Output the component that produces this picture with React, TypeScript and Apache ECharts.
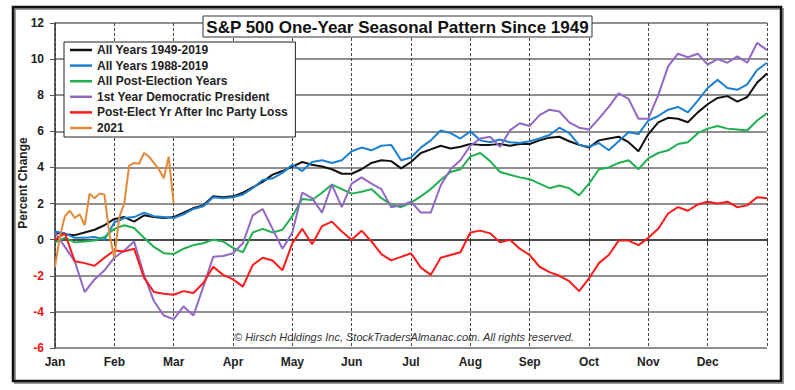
import React, { useEffect, useRef } from "react";
import * as echarts from "echarts";

// Month names (x axis: 12 units per month)
const months = ["Jan", "Feb", "Mar", "Apr", "May", "Jun", "Jul", "Aug", "Sep", "Oct", "Nov", "Dec"];

// Main series sampled every 1/6 month (73 points, Jan 1 .. Dec 31)
const allYears1949 = [
  0.4, 0.3, 0.25, 0.4, 0.55, 0.8, 1.15, 1.25, 1.0, 1.35,
  1.25, 1.2, 1.25, 1.5, 1.75, 1.9, 2.4, 2.35, 2.4, 2.6,
  2.9, 3.2, 3.6, 3.8, 4.05, 4.3, 4.15, 4.05, 3.9, 3.65,
  3.65, 3.9, 4.25, 4.4, 4.35, 3.95, 4.3, 4.8, 5.0, 5.2,
  5.05, 5.15, 5.3, 5.25, 5.25, 5.3, 5.2, 5.3, 5.3, 5.5,
  5.65, 5.7, 5.45, 5.25, 5.1, 5.5, 5.6, 5.7, 5.4, 4.9,
  5.85, 6.5, 6.75, 6.7, 6.5, 7.05, 7.5, 7.85, 7.95, 7.65,
  7.9, 8.7, 9.2,
];
const allYears1988 = [
  0.45, 0.35, 0.1, 0.1, 0.15, 0.0, 0.95, 1.2, 1.25, 1.5,
  1.3, 1.25, 1.2, 1.4, 1.7, 1.85, 2.35, 2.3, 2.35, 2.5,
  2.85, 3.3, 3.4, 3.7, 4.15, 3.8, 4.3, 4.4, 4.25, 4.4,
  4.9, 5.1, 4.95, 5.2, 5.25, 4.4, 4.55, 5.1, 5.5, 6.05,
  5.9, 5.6, 6.0, 5.5, 5.4, 5.55, 5.4, 5.35, 5.45, 5.6,
  5.8, 6.2, 5.9, 5.25, 5.15, 5.35, 4.95, 5.45, 5.95, 5.85,
  6.6, 6.85, 7.2, 7.35, 7.05, 7.7, 8.4, 8.85, 8.4, 8.3,
  8.6, 9.4, 9.8,
];
const postElection = [
  -0.15, 0.1, -0.15, -0.1, -0.05, 0.15, 0.6, 0.8, 0.65, 0.1,
  -0.4, -0.75, -0.8, -0.5, -0.3, -0.2, 0.0, -0.1, -0.45, -0.7,
  0.4, 0.6, 0.4, 0.55, 1.3, 2.25, 2.2, 2.6, 3.05, 2.8,
  2.55, 2.65, 2.8, 2.3, 1.95, 1.8, 2.05, 2.4, 2.8, 3.3,
  3.75, 3.9, 4.6, 4.8, 4.35, 3.75, 3.6, 3.45, 3.35, 3.1,
  2.85, 3.0, 2.85, 2.45, 3.1, 3.9, 4.0, 4.25, 4.4, 3.9,
  4.5, 4.8, 4.95, 5.3, 5.4, 5.9, 6.15, 6.3, 6.15, 6.1,
  6.05, 6.6, 7.0,
];
const firstYearDem = [
  0.4, -0.4, -1.2, -2.9, -2.2, -1.7, -1.0, -0.6, -0.1, -1.95,
  -3.4, -4.2, -4.4, -3.7, -4.2, -2.6, -0.95, -0.9, -0.75, -0.2,
  1.35, 1.7, 0.6, -0.5, 0.4, 2.6, 2.3, 1.5, 3.05, 1.8,
  3.1, 3.45, 3.1, 2.8, 1.8, 1.9, 2.1, 1.5, 1.5, 3.0,
  3.9, 4.4, 5.2, 5.6, 5.7, 5.15, 6.05, 6.45, 6.3, 6.9,
  7.2, 7.1, 6.5, 6.2, 6.1, 6.7, 7.35, 8.1, 7.8, 6.7,
  6.7, 8.0, 9.6, 10.3, 10.1, 10.3, 9.7, 10.0, 9.8, 10.15,
  9.8, 10.9, 10.5,
];
const incPartyLoss = [
  0.0, 0.35, -1.2, -1.3, -1.45, -1.0, -0.6, -0.65, -0.5, -2.1,
  -2.9, -3.0, -3.05, -2.85, -2.95, -2.4, -1.5, -1.95, -2.2, -2.6,
  -1.4, -1.0, -1.15, -1.7, -0.2, 0.6, -0.25, 0.75, 1.0, 0.45,
  0.0, 0.5, -0.1, -0.8, -1.15, -0.95, -0.75, -1.55, -1.95, -1.0,
  -0.85, -0.7, 0.4, 0.5, 0.35, -0.15, 0.0, -0.5, -0.85, -1.5,
  -1.8, -2.0, -2.3, -2.85, -2.15, -1.3, -0.85, -0.05, -0.05, -0.3,
  0.1, 0.6, 1.45, 1.8, 1.6, 1.95, 2.1, 2.0, 2.1, 1.8,
  1.9, 2.35, 2.3,
];
// 2021 sampled every 1/12 month (Jan 1 .. end of Feb)
const y2021 = [
  -1.5, 0.2, 1.3, 1.6, 1.2, 1.4, 0.8, 2.55, 2.3, 2.55,
  2.5, 0.3, -1.0, 1.25, 2.0, 4.1, 4.25, 4.2, 4.8, 4.6,
  4.25, 3.9, 3.4, 4.6, 2.0,
];

const yTicks = { min: -6, max: 12, step: 2 };

const seriesDefs = [
  { name: "All Years 1949-2019", data: allYears1949, step: 2, color: "#111111" },
  { name: "All Years 1988-2019", data: allYears1988, step: 2, color: "#1c80d2" },
  { name: "All Post-Election Years", data: postElection, step: 2, color: "#1fb04f" },
  { name: "1st Year Democratic President", data: firstYearDem, step: 2, color: "#9168c4" },
  { name: "Post-Elect Yr After Inc Party Loss", data: incPartyLoss, step: 2, color: "#ff1a1a" },
  { name: "2021", data: y2021, step: 1, color: "#e3893a" },
];

const FONT = "'Liberation Sans', Arial, sans-serif";

export default function App() {
  const ref = useRef<HTMLDivElement>(null);
  useEffect(() => {
    if (!ref.current) return;
    const chart = echarts.init(ref.current, undefined, { renderer: "svg" });
    const option: any = {
      animation: false,
      backgroundColor: "#ffffff",
      textStyle: { fontFamily: FONT },
      grid: { left: 55, right: 28, top: 23, bottom: 42, containLabel: false },
      xAxis: {
        type: "value",
        min: 0,
        max: 144,
        interval: 12,
        axisLine: { show: true, lineStyle: { color: "#333", width: 1.5 } },
        axisTick: { show: true, length: 4, lineStyle: { color: "#333" } },
        axisLabel: {
          formatter: (v: number) => months[Math.round(v / 12)] ?? "",
          fontWeight: "bold",
          fontSize: 12,
          color: "#222",
          margin: 8,
          fontFamily: FONT,
        },
        splitLine: { show: true, lineStyle: { color: "#444", type: [3, 2], width: 1 } },
      },
      yAxis: {
        type: "value",
        min: yTicks.min,
        max: yTicks.max,
        interval: yTicks.step,
        axisLine: { show: true, lineStyle: { color: "#333", width: 1.5 } },
        axisTick: { show: true, length: 5, lineStyle: { color: "#555" } },
        axisLabel: {
          margin: 11,
          formatter: (v: number) => (v < 0 ? `{neg|${v}}` : `{pos|${v}}`),
          rich: {
            pos: { color: "#222", fontWeight: "bold", fontSize: 12, fontFamily: FONT },
            neg: { color: "#ee1111", fontWeight: "bold", fontSize: 12, fontFamily: FONT },
          },
        },
        splitLine: { show: true, lineStyle: { color: "#6a6a6a", width: 1.5 } },
      },
      legend: {
        orient: "vertical",
        left: 64,
        top: 42,
        icon: "rect",
        itemWidth: 22,
        itemHeight: 2.5,
        itemGap: 1.6,
        padding: [1, 7, 2, 6],
        backgroundColor: "#fff",
        borderColor: "#222",
        borderWidth: 1,
        textStyle: { fontSize: 12, fontWeight: "bold", color: "#222", lineHeight: 14, fontFamily: FONT },
        data: seriesDefs.map((s) => s.name),
      },
      series: seriesDefs.map((s) => ({
        name: s.name,
        type: "line",
        symbol: "none",
        color: s.color,
        lineStyle: { color: s.color, width: 2 },
        data: s.data.map((v, i) => [i * s.step, v]),
      })),
      graphic: [
        { type: "rect", z: 1, shape: { x: 15, y: 9, width: 768, height: 374 }, style: { fill: "none", stroke: "#999", lineWidth: 2 } },
        { type: "rect", z: 1, shape: { x: 13, y: 7, width: 768, height: 374 }, style: { fill: "none", stroke: "#111", lineWidth: 2.5 } },
        { type: "rect", z: 10, shape: { x: 203, y: 16, width: 389, height: 21 }, style: { fill: "#fff", stroke: "#333", lineWidth: 1 } },
        {
          type: "text",
          z: 11,
          x: 397.5,
          y: 27,
          style: {
            text: "S&P 500 One-Year Seasonal Pattern Since 1949",
            fontSize: 17,
            fontWeight: "bold",
            fontFamily: FONT,
            fill: "#111",
            textAlign: "center",
            verticalAlign: "middle",
          },
        },
        {
          type: "text",
          z: 11,
          x: 23,
          y: 183,
          rotation: Math.PI / 2,
          style: {
            text: "Percent Change",
            fontSize: 12,
            fontWeight: "bold",
            fontFamily: FONT,
            fill: "#222",
            textAlign: "center",
            verticalAlign: "middle",
          },
        },
        {
          type: "text",
          z: 11,
          x: 404,
          y: 337,
          style: {
            text: "© Hirsch Holdings Inc, StockTradersAlmanac.com. All rights reserved.",
            fontSize: 11,
            fontStyle: "italic",
            fontFamily: FONT,
            fill: "#333",
            textAlign: "center",
            verticalAlign: "middle",
          },
        },
      ],
    };
    chart.setOption(option);
    return () => chart.dispose();
  }, []);
  return (
    <div
      ref={ref}
      style={{ position: "absolute", left: 0, top: 0, width: 795, height: 390, background: "#fff" }}
    />
  );
}
